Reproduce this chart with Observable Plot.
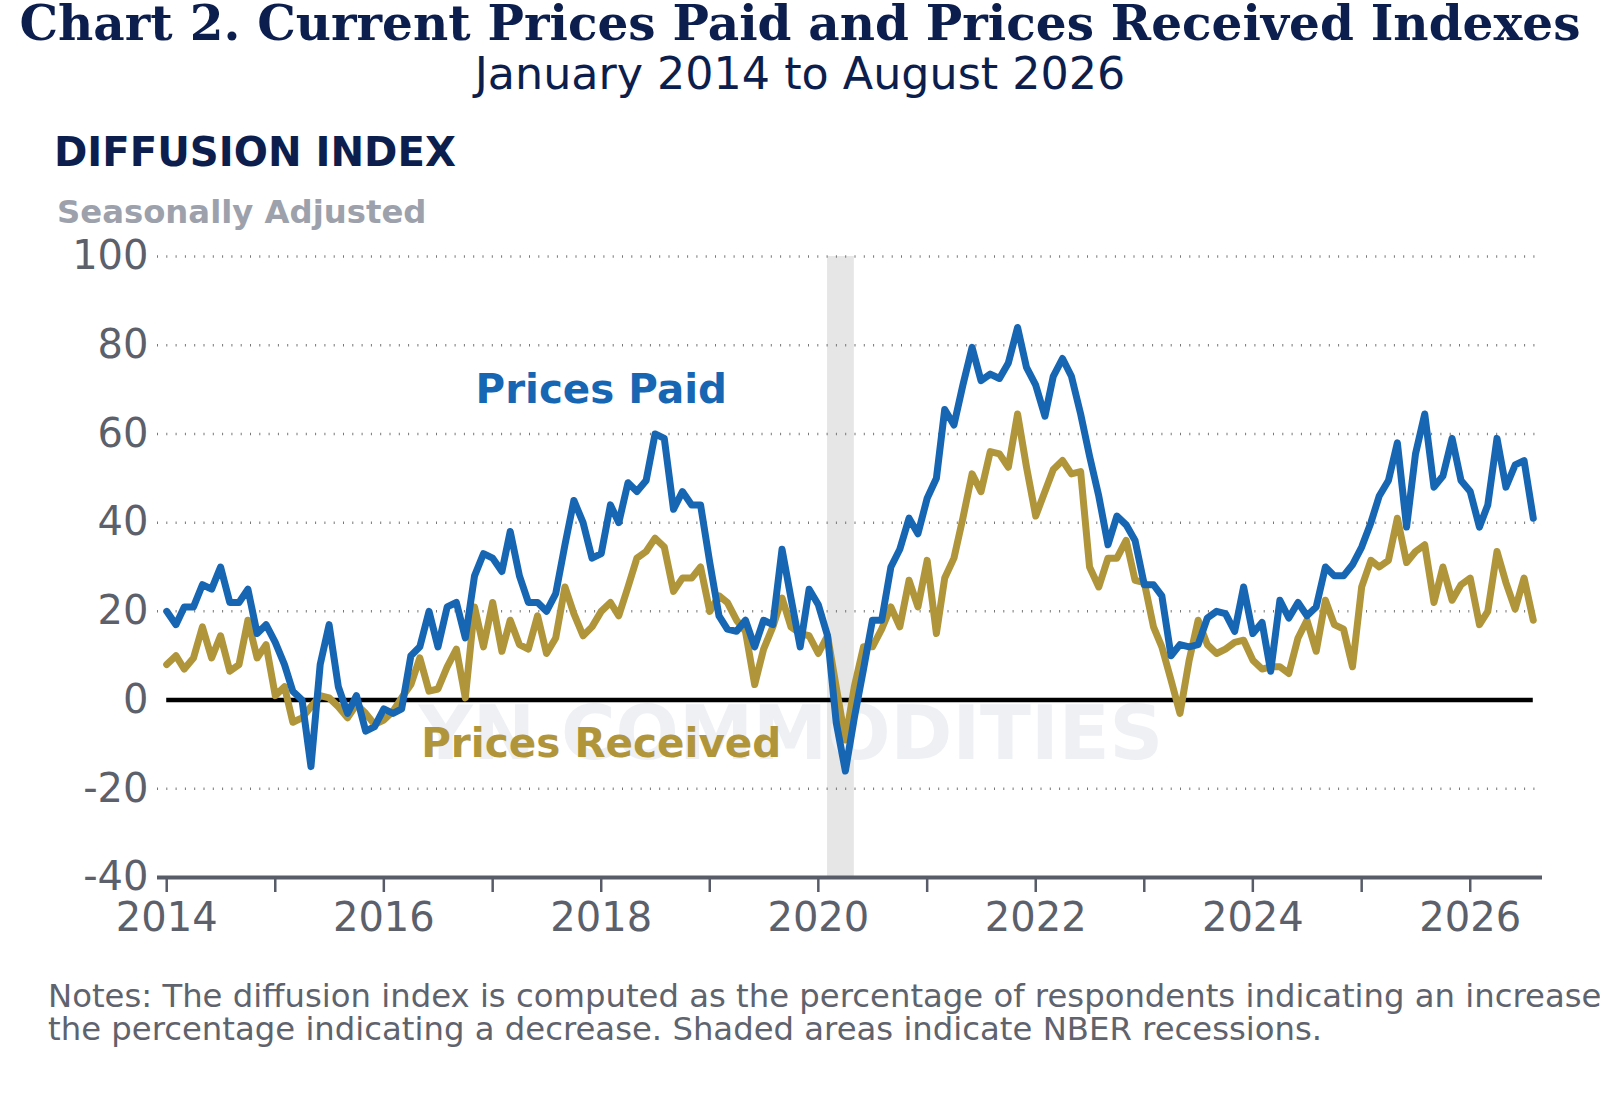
<!DOCTYPE html>
<html><head><meta charset="utf-8">
<script src="https://cdn.jsdelivr.net/npm/d3@7"></script>
<script src="https://cdn.jsdelivr.net/npm/@observablehq/plot@0.6"></script>
<style>
html,body{margin:0;padding:0;background:#fff;width:1600px;height:1109px;overflow:hidden;}
#wrap{position:relative;width:1600px;height:1109px;}
.t{position:absolute;white-space:nowrap;}
#title{top:0px;left:0;width:1600px;text-align:center;font-family:"DejaVu Serif";font-weight:bold;font-size:48.5px;line-height:46px;color:#0c1e4d;}
#subtitle{top:52px;left:0;width:1600px;text-align:center;font-family:"DejaVu Sans";font-size:44.4px;line-height:44px;color:#0c1e4d;}
#ylabel{top:132px;left:54px;font-family:"DejaVu Sans";font-weight:bold;font-size:40.2px;line-height:41px;color:#0c1e4d;}
#ysub{top:196px;left:57px;font-family:"DejaVu Sans";font-weight:bold;font-size:32.3px;line-height:32px;color:#9ca1ab;}
#chart{position:absolute;top:230px;left:0;}
#notes{top:980px;left:48px;font-family:"DejaVu Sans";font-size:32.3px;line-height:33px;color:#5f636d;}
</style></head>
<body><div id="wrap">
<div class="t" id="title">Chart 2. Current Prices Paid and Prices Received Indexes</div>
<div class="t" id="subtitle">January 2014 to August 2026</div>
<div class="t" id="ylabel">DIFFUSION INDEX</div>
<div class="t" id="ysub">Seasonally Adjusted</div>
<div id="chart"></div>
<div class="t" id="notes">Notes: The diffusion index is computed as the percentage of respondents indicating an increase<br>the percentage indicating a decrease. Shaded areas indicate NBER recessions.</div>
</div>
<script>
const startMonth = "2014-01";
const pricesPaid = [
 20,17,21,21,26,25,30,22,22,25,15,17,
 13,8,2,0,-15,8,17,3,-3,1,-7,-6,
 -2,-3,-2,10,12,20,12,21,22,14,28,33,
 32,29,38,28,22,22,20,24,35,45,40,32,
 33,44,40,49,47,49.5,60,59,43,47,44,44,
 31,19,16,15.5,18,12,18,17,34,23,12,25,
 21.5,14.5,-5,-16,-4,7,18,18,30,34,41,37.5,
 45.5,50,65.5,62,71,79.5,72,73.5,72.5,76,84,75,
 71,64,73,77,73,64.5,55,46,35,41.5,39.5,36,
 26,26,23.5,10,12.5,12,12.5,18.5,20,19.5,15.5,25.5,
 15,17.5,6.5,22.5,18.5,22,19,21,30,28,28,30.5,
 34.5,40,46,49.5,58,39,55.5,64.5,48,50.5,59,49.5,
 47,39,44,59,48,53,54,41
];
const pricesReceived = [
 8,10,7,9.5,16.5,9.5,14.5,6.5,8,18,9.5,12.5,
 1,3,-5,-4,-1.5,1,0.5,-1.5,-4,-1,-3,-5.5,
 -4.5,-2.5,0.5,3.5,9.5,2,2.5,7.5,11.5,0.5,21,12,
 22,11,18,12.5,11.5,19,10.5,14,25.5,19.5,14.5,16.5,
 20,22,19,25.5,32,33.5,36.5,34.5,24.5,27.5,27.5,30,
 20,23.5,22,18,15.5,3.5,11.5,16.5,23,16.5,15,14.5,
 10.5,14.5,3,-9,3,12,12,16,21,16.5,27,21,
 31.5,15,27.5,32,41,51,47,56,55.5,52.5,64.5,52.5,
 41.5,47,52,54,51,51.5,30,25.5,32,32,36,27,
 26.5,16.5,12,4.5,-3,9,18,12.5,10.5,11.5,13,13.5,
 9,7,7.5,7.5,6,14,18,11,22.5,17,16,7.5,
 25.5,31.5,30,31.5,41,31,33.5,35,22,30,22.5,26,
 27.5,17,20,33.5,26.5,20.5,27.5,18
];
const yTicks = [-40, -20, 0, 20, 40, 60, 80, 100];
const gridValues = [-20, 20, 40, 60, 80, 100];
const tickYears = [2014,2015,2016,2017,2018,2019,2020,2021,2022,2023,2024,2025,2026];
const recessions = [{start: "2020-02-01", end: "2020-05-01"}];

const BLUE = "#1666b4", GOLD = "#b0953a", AXIS = "#575c68";
const [sy, sm] = startMonth.split("-").map(Number);
const months = pricesPaid.map((_, i) => new Date(Date.UTC(sy, sm - 1 + i, 1)));
const paid = pricesPaid.map((v, i) => ({date: months[i], value: v}));
const received = pricesReceived.map((v, i) => ({date: months[i], value: v}));
const rec = recessions.map(r => ({start: new Date(r.start), end: new Date(r.end)}));
const utc = (y, m) => new Date(Date.UTC(y, m, 1));

const chart = Plot.plot({
  width: 1600,
  height: 740,
  marginTop: 26,
  marginBottom: 93,
  marginLeft: 157,
  marginRight: 58,
  style: {fontFamily: "DejaVu Sans", background: "transparent", overflow: "visible"},
  x: {type: "utc", domain: [utc(2013, 11), utc(2026, 8)]},
  y: {domain: [-40, 100]},
  marks: [
    Plot.rect(rec, {x1: "start", x2: "end", fill: "#e6e6e6"}),
    Plot.ruleY(gridValues, {stroke: "#777", strokeWidth: 2.5, strokeDasharray: "1,8.3"}),
    Plot.text(["YN COMMODITIES"], {x: [utc(2019, 9)], y: [-8], text: d => d, fontSize: 74.5, fontWeight: "bold", fill: "#eef0f4"}),
    Plot.ruleY([0], {x1: months[0], x2: months[months.length - 1], stroke: "#000", strokeWidth: 4.5}),
    Plot.line(received, {x: "date", y: "value", stroke: GOLD, strokeWidth: 7, strokeLinejoin: "round"}),
    Plot.line(paid, {x: "date", y: "value", stroke: BLUE, strokeWidth: 7, strokeLinejoin: "round"}),
    Plot.text(["Prices Paid"], {x: [utc(2018, 0)], y: [70], text: d => d, fontSize: 40.4, fontWeight: "bold", fill: BLUE}),
    Plot.text(["Prices Received"], {x: [utc(2018, 0)], y: [-10], text: d => d, fontSize: 40.5, fontWeight: "bold", fill: GOLD}),
    Plot.axisY({ticks: yTicks, tickSize: 0, tickPadding: 9, tickFormat: d => String(d), fontSize: 40, fill: "#5b606b", label: null}),
    Plot.ruleY([-40], {stroke: AXIS, strokeWidth: 4}),
    Plot.axisX({ticks: tickYears.map(y => utc(y, 0)), tickSize: 15, tickPadding: 10, strokeWidth: 2.5, stroke: AXIS, fill: "#5b606b", fontSize: 40,
      tickFormat: d => d.getUTCFullYear() % 2 === 0 ? String(d.getUTCFullYear()) : "", label: null})
  ]
});
document.getElementById("chart").appendChild(chart);
</script>
</body></html>
